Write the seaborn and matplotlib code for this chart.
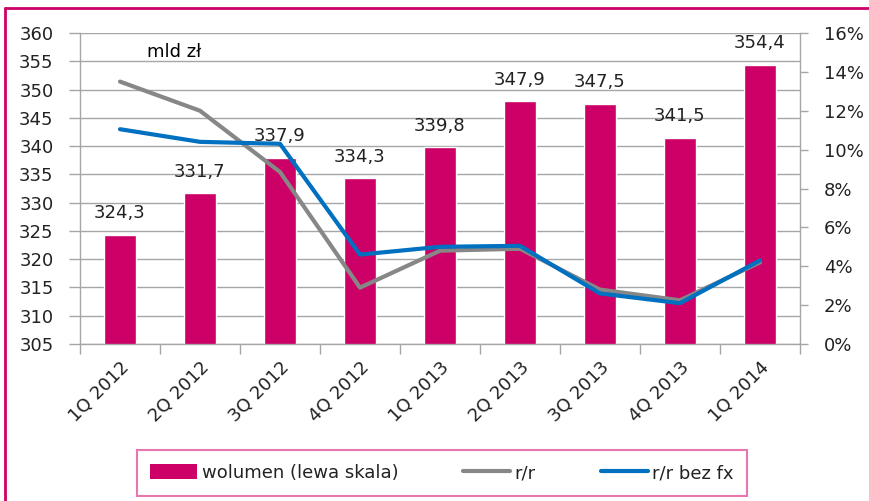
import matplotlib
matplotlib.use("Agg")
import matplotlib.pyplot as plt
import pandas as pd
import seaborn as sns
from matplotlib.lines import Line2D
from matplotlib.patches import Patch
from matplotlib.ticker import FixedLocator, PercentFormatter

# Data
quarters = ['1Q 2012', '2Q 2012', '3Q 2012', '4Q 2012', '1Q 2013',
            '2Q 2013', '3Q 2013', '4Q 2013', '1Q 2014']
volume = [324.3, 331.7, 337.9, 334.3, 339.8, 347.9, 347.5, 341.5, 354.4]
yoy = [13.5, 12.0, 8.85, 2.9, 4.8, 4.9, 2.8, 2.25, 4.2]
yoy_ex_fx = [11.05, 10.4, 10.3, 4.6, 5.0, 5.05, 2.6, 2.1, 4.3]

df = pd.DataFrame({'quarter': quarters, 'volume': volume,
                   'yoy': yoy, 'yoy_ex_fx': yoy_ex_fx})

MAGENTA = '#CC0066'
GRAY = '#878787'
BLUE = '#0070C0'
TXT = '#222222'
FS = 13

sns.set_theme(style='white')
plt.rcParams['font.family'] = ['DejaVu Sans']
plt.rcParams['font.size'] = FS

fig = plt.figure(figsize=(8.7, 5.01), dpi=100)
ax = fig.add_axes([80 / 870, 1 - 344 / 501, 720 / 870, 311 / 501])

# Bars (left scale)
sns.barplot(data=df, x='quarter', y='volume', color=MAGENTA, saturation=1,
            width=0.4, ax=ax, zorder=2)
ax.set_ylim(305, 360)
ax.set_yticks(range(305, 361, 5))
ax.set_xlim(-0.5, len(quarters) - 0.5)
ax.yaxis.grid(True, color='#A6A6A6', linewidth=1)
ax.set_axisbelow(True)
ax.set_xlabel('')
ax.set_ylabel('')

for i, v in enumerate(volume):
    ax.annotate(f'{v:.1f}'.replace('.', ','), (i, v), xytext=(0, 9),
                textcoords='offset points', ha='center', va='bottom',
                fontsize=FS, color=TXT)

ax.text(0.093, 0.94, 'mld zł', transform=ax.transAxes, ha='left',
        va='center', fontsize=FS, color='black')

# x ticks between categories, labels at centers
ax.xaxis.set_major_locator(FixedLocator(range(len(quarters))))
ax.set_xticklabels(quarters, rotation=45, ha='right',
                   rotation_mode='anchor', color=TXT, fontsize=FS)
ax.xaxis.set_minor_locator(FixedLocator([i - 0.5 for i in range(len(quarters) + 1)]))
ax.tick_params(axis='x', which='major', length=0, pad=10)
ax.tick_params(axis='x', which='minor', length=7, width=1, color='#A6A6A6',
               direction='out', bottom=True)
ax.tick_params(axis='y', length=8, width=1, color='#A6A6A6', left=True,
               labelcolor=TXT, labelsize=FS, pad=11)

for side in ['top', 'right']:
    ax.spines[side].set_visible(False)
for side in ['left', 'bottom']:
    ax.spines[side].set_color('#A6A6A6')
    ax.spines[side].set_linewidth(1)

# Lines (right scale)
ax2 = ax.twinx()
sns.lineplot(data=df, x='quarter', y='yoy', color=GRAY, linewidth=3,
             ax=ax2, sort=False, zorder=3)
sns.lineplot(data=df, x='quarter', y='yoy_ex_fx', color=BLUE, linewidth=3,
             ax=ax2, sort=False, zorder=4)
ax2.set_ylim(0, 16)
ax2.set_yticks(range(0, 17, 2))
ax2.yaxis.set_major_formatter(PercentFormatter(decimals=0))
ax2.set_ylabel('')
ax2.set_xlim(-0.5, len(quarters) - 0.5)
ax2.tick_params(axis='y', length=6, width=1, color='#A6A6A6', right=True,
                labelcolor=TXT, labelsize=FS, pad=11)
for side in ['top', 'left', 'bottom']:
    ax2.spines[side].set_visible(False)
ax2.spines['right'].set_color('#A6A6A6')
ax2.spines['right'].set_linewidth(1)

# Legend at the bottom
handles = [Patch(facecolor=MAGENTA, edgecolor='none'),
           Line2D([0], [0], color=GRAY, linewidth=3),
           Line2D([0], [0], color=BLUE, linewidth=3)]
labels = ['wolumen (lewa skala)', 'r/r', 'r/r bez fx']
leg = fig.legend(handles, labels, loc='center', ncol=3,
                 bbox_to_anchor=(442 / 870, 1 - 473 / 501),
                 frameon=True, fancybox=False, fontsize=FS,
                 handlelength=2.6, handleheight=0.9, handletextpad=0.25,
                 columnspacing=3.6, borderpad=0.75, borderaxespad=0)
leg.get_frame().set_edgecolor('#E0559B')
leg.get_frame().set_linewidth(1.5)
for t in leg.get_texts():
    t.set_color(TXT)

# Magenta border of the figure
fig.add_artist(Line2D([5 / 870, 1], [1 - 8 / 501] * 2, color=MAGENTA,
                      linewidth=2, transform=fig.transFigure))
fig.add_artist(Line2D([5 / 870] * 2, [0, 1 - 8 / 501], color=MAGENTA,
                      linewidth=2, transform=fig.transFigure))

fig.savefig('out.png', dpi=100)
